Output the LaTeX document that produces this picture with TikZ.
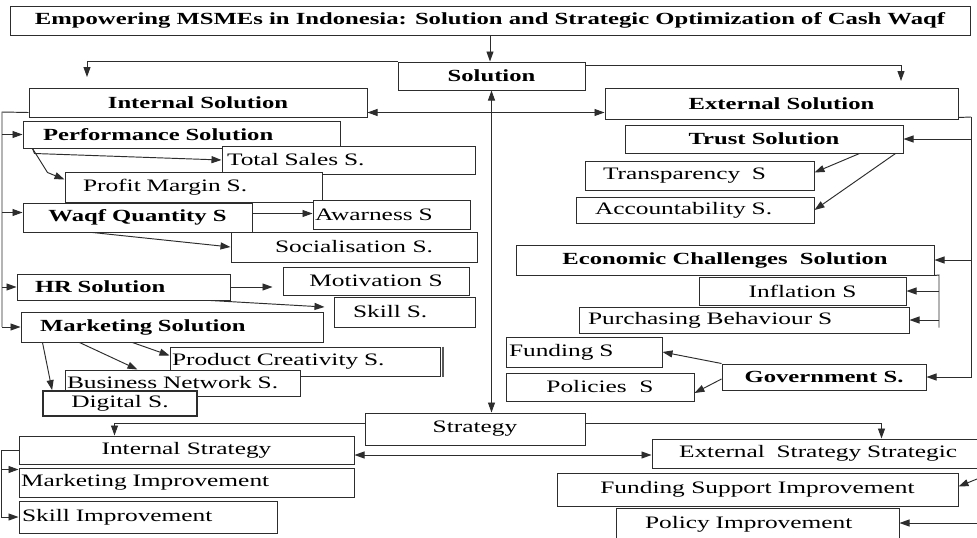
\documentclass[tikz,border=0pt]{standalone}
\usepackage{fontspec}
\setmainfont{Liberation Serif}[FakeStretch=1.45]
\usetikzlibrary{arrows.meta,calc}
\definecolor{ink}{RGB}{45,45,45}
\tikzset{
  >={Triangle[length=10pt,width=7pt]},
  box/.style={draw=ink,fill=white,line width=1pt,inner sep=0pt,
    font=\fontsize{17.5}{20}\selectfont},
  head/.style={box,font=\fontsize{17}{20}\selectfont\bfseries},
  lft/.style 2 args={align=left,inner xsep=#1,text width=#2},
  flow/.style={->,draw=ink,line width=0.95pt},
  link/.style={<->,draw=ink,line width=0.95pt},
  wire/.style={draw=ink,line width=0.95pt},
}
\begin{document}
\begin{tikzpicture}[x=1pt,y=-1pt]
  \fill[white] (0,0) rectangle (977,538);
  \useasboundingbox (0,0) rectangle (977,538);
  % solution side
  \node[head,minimum width=960pt,minimum height=29pt] (title) at (490,20.5) {Empowering MSMEs in Indonesia: Solution and Strategic Optimization of Cash Waqf};
  \node[head,minimum width=187pt,minimum height=28pt] (sol) at (491.5,76) {Solution};
  \node[head,minimum width=338pt,minimum height=29pt] (intsol) at (198,102.5) {Internal Solution};
  \node[head,minimum width=353pt,minimum height=31pt] (extsol) at (781.5,103.5) {External Solution};
  \node[head,lft={20pt}{277pt},minimum height=27pt] (perf) at (181.5,134.5) {Performance Solution};
  \node[box,lft={5pt}{243pt},minimum height=28pt] (sales) at (348.5,160) {Total Sales S.};
  \node[box,lft={18pt}{221pt},minimum height=30pt] (profit) at (193.5,187) {Profit Margin S.};
  \node[head,minimum width=229pt,minimum height=29pt] (waqf) at (137.5,217.5) {Waqf Quantity S};
  \node[box,lft={2pt}{153pt},minimum height=29pt] (aware) at (391.5,214.5) {Awarness S};
  \node[box,minimum width=246pt,minimum height=30pt] (social) at (354,247) {Socialisation S.};
  \node[head,lft={18pt}{177pt},minimum height=26pt] (hr) at (123.5,287) {HR Solution};
  \node[box,minimum width=186pt,minimum height=28pt] (motiv) at (376,281) {Motivation S};
  \node[box,lft={19pt}{103pt},minimum height=30pt] (skill) at (404.5,312) {Skill S.};
  \node[head,lft={19pt}{264pt},minimum height=30pt] (mkt) at (172,327) {Marketing Solution};
  \node[box,lft={2pt}{266pt},minimum height=29pt] (creat) at (305,361.5) {Product Creativity S.};
  \draw[gray!70!black,line width=2pt] ([xshift=2pt]creat.north east) -- ([xshift=2pt]creat.south east);
  \node[box,lft={2pt}{231pt},minimum height=26pt] (bnet) at (182.5,383) {Business Network S.};
  \node[box,line width=1.8pt,minimum width=154pt,minimum height=25pt] (digital) at (120,403.5) {Digital S.};
  \node[head,minimum width=278pt,minimum height=28pt] (trust) at (764,139) {Trust Solution};
  \node[box,lft={18pt}{193pt},minimum height=29pt] (transp) at (699.5,175.5) {Transparency\ \ S};
  \node[box,lft={19pt}{200pt},minimum height=26pt] (account) at (695,210) {Accountability S.};
  \node[head,minimum width=418pt,minimum height=30pt] (econ) at (725,260) {Economic Challenges\ \ Solution};
  \node[box,minimum width=207pt,minimum height=28pt] (infl) at (802.5,291) {Inflation S};
  \node[box,lft={9pt}{312pt},minimum height=26pt] (purch) at (744,320) {Purchasing Behaviour S};
  \node[box,lft={3pt}{150pt},minimum height=30pt] (fund) at (584,352) {Funding S};
  \node[box,minimum width=188pt,minimum height=28pt] (pol) at (600,387) {Policies\ \ S};
  \node[head,minimum width=204pt,minimum height=26pt] (gov) at (824,377) {Government S.};
  % strategy side
  \node[box,minimum width=220pt,minimum height=32pt] (strat) at (475,429) {Strategy};
  \node[box,minimum width=335pt,minimum height=28pt] (intstrat) at (186.5,450) {Internal Strategy};
  \node[box,lft={2pt}{331pt},minimum height=29pt] (mktimp) at (186.5,482.5) {Marketing Improvement};
  \node[box,lft={3pt}{252pt},minimum height=32pt] (skillimp) at (148,517) {Skill Improvement};
  \node[box,lft={27pt}{284pt},minimum height=29pt] (extstrat) at (821,453.5) {External\ \ Strategy Strategic};
  \node[box,minimum width=401pt,minimum height=33pt] (fundimp) at (757.5,489.5) {Funding Support Improvement};
  \node[box,lft={29pt}{225pt},minimum height=32pt] (polimp) at (757.5,524) {Policy Improvement};
  % top level links
  \coordinate (solL) at (87,77);
  \coordinate (solR) at (901,81);
  \draw[flow] (title.south) -- (title.south |- sol.north);
  \draw[flow] (sol.north west) -| (solL);
  \draw[flow] ([yshift=-4pt]sol.north east) -| (solR);
  \draw[link] ([yshift=5pt]intsol.south east) -- ([yshift=5pt]intsol.south east -| extsol.west);
  \draw[link] (sol.south) -- (sol.south |- strat.north);
  % internal solution
  \coordinate (lbus) at (2,112);
  \draw[wire] ([yshift=5pt]intsol.south west) -- (lbus) -- (lbus |- mkt.west);
  \foreach \n/\s in {perf/0pt,waqf/5pt,hr/0pt,mkt/0pt}
    \draw[flow] ([yshift=\s]\n.west -| lbus) -- ([yshift=\s]\n.west);
  \draw[flow] ([xshift=10pt]perf.south west) -- ++(2,5) -- (sales.west);
  \draw[flow] ([xshift=10pt]perf.south west) -- ++(15,24) -- ([yshift=-8pt]profit.north west);
  \draw[flow] ([yshift=4pt]waqf.east) -- ([yshift=4pt]waqf.east -| aware.west);
  \draw[flow] ([xshift=70pt]waqf.south west) -- (social.west);
  \draw[flow] (hr.east) -- ([xshift=-10pt]hr.east -| motiv.west);
  \draw[flow] ([xshift=-20pt]hr.south east) -- ([xshift=-9pt,yshift=5pt]skill.west);
  \draw[flow] ([xshift=22pt]mkt.south west) -- ([xshift=10pt]digital.north west);
  \draw[flow] ([xshift=59pt]mkt.south west) -- ([xshift=73pt]bnet.north west);
  \draw[flow] ([xshift=112pt]mkt.south west) -- ([yshift=6pt]creat.west);
  % external solution
  \coordinate (rbus) at (971,117);
  \draw[wire] ([yshift=2pt]extsol.south east) -- (rbus);
  \draw[flow] (rbus) |- (gov.east);
  \foreach \n in {trust,econ}
    \draw[flow] (rbus |- \n.east) -- (\n.east);
  \draw[flow] ([xshift=235pt]trust.south west) -- ([yshift=3pt]transp.east);
  \draw[flow] ([xshift=271pt]trust.south west) -- (account.east);
  \coordinate (ebus) at (939,275);
  \draw[wire] (econ.south east) -- (ebus) -- ([yshift=6pt]ebus |- purch.south);
  \foreach \n in {infl,purch}
    \draw[flow] (ebus |- \n.east) -- (\n.east);
  \draw[flow] (gov.north west) -- (fund.east);
  \draw[flow] ([yshift=-2pt]gov.west) -- ([yshift=-6pt]pol.east);
  % strategy
  \draw[flow] ([yshift=6pt]strat.west) -| ([xshift=96pt]intstrat.north west);
  \draw[flow] ([yshift=6pt]strat.east) -| ([xshift=230pt]extstrat.north west);
  \draw[link] ([yshift=-5pt]intstrat.east) -- ([yshift=-5pt]intstrat.east -| extstrat.west);
  \coordinate (lbus2) at (1,450);
  \draw[wire] (intstrat.west) -- (lbus2) -- (lbus2 |- skillimp.west);
  \draw[flow] ([yshift=-2pt]mktimp.north west -| lbus2) -- ([yshift=-2pt]mktimp.north west);
  \draw[flow] (lbus2 |- skillimp.west) -- (skillimp.west);
  \coordinate (fsin) at (977,479);
  \coordinate (piin) at (977,523);
  \draw[flow] (fsin) -- ([yshift=3pt]fundimp.east);
  \draw[flow] (piin) -- (piin -| polimp.east);
\end{tikzpicture}
\end{document}
